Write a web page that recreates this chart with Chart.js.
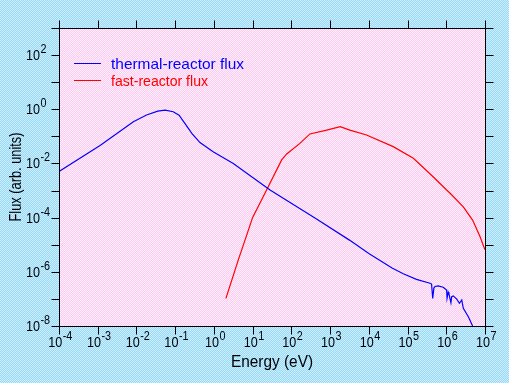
<!DOCTYPE html>
<html>
<head>
<meta charset="utf-8">
<script src="https://cdn.jsdelivr.net/npm/chart.js@4"></script>
<style>
html,body{margin:0;padding:0;background:#b2e2fa;}
canvas{display:block;}
</style>
</head>
<body>
<canvas id="c" width="509" height="383"></canvas>
<script>
// ---- data (log10 of energy in eV, log10 of flux) ----
const thermalLogE = [-4.0,-2.94,-2.08,-1.74,-1.45,-1.26,-1.05,-0.90,-0.75,-0.57,-0.36,-0.02,0.50,1.19,1.45,2.65,3.50,4.0,4.29,4.6,4.89,5.23,5.58,5.62,5.65,5.68,5.71,5.79,5.92,6.01,6.02,6.05,6.07,6.12,6.14,6.18,6.27,6.34,6.40,6.44,6.57,6.68];
const thermalLogFlux = [-2.30,-1.34,-0.46,-0.21,-0.07,-0.03,-0.09,-0.22,-0.52,-0.89,-1.23,-1.57,-2.00,-2.71,-2.98,-4.05,-4.83,-5.32,-5.58,-5.86,-6.07,-6.28,-6.42,-6.45,-6.98,-6.60,-6.54,-6.52,-6.57,-6.67,-6.98,-6.75,-6.82,-7.14,-6.92,-6.89,-7.01,-7.16,-7.04,-7.35,-7.66,-8.0];
const fastLogE = [0.31,0.63,0.89,1.0,1.23,1.36,1.75,1.88,2.22,2.48,2.91,3.26,3.51,3.94,4.63,5.15,5.66,6.01,6.10,6.44,6.68,6.87,7.0];
const fastLogFlux = [-6.98,-5.56,-4.46,-3.99,-3.35,-2.98,-1.87,-1.65,-1.26,-0.91,-0.77,-0.64,-0.77,-0.95,-1.38,-1.81,-2.49,-2.98,-3.10,-3.60,-4.09,-4.70,-5.19];
const seriesLabels = ["thermal-reactor flux", "fast-reactor flux"];
const xTickExponents = [-4,-3,-2,-1,0,1,2,3,4,5,6,7];
const yTickExponents = [-8,-7,-6,-5,-4,-3,-2,-1,0,1,2,3];
const yLabelExponents = [-8,-6,-4,-2,0,2];
const xTitle = "Energy (eV)";
const yTitle = "Flux (arb. units)";

function toPoints(le, lf){ return le.map((e,i)=>({x:Math.pow(10,e), y:Math.pow(10,lf[i])})); }

function checker(c1, c2){
  const p = document.createElement('canvas'); p.width = 2; p.height = 2;
  const g = p.getContext('2d');
  g.fillStyle = c1; g.fillRect(0,0,2,2);
  g.fillStyle = c2; g.fillRect(0,0,1,1); g.fillRect(1,1,1,1);
  return p;
}

const FONT = '"Liberation Sans", Arial, Helvetica, sans-serif';

function drawFitted(ctx, text, x, y, font, width, align){
  ctx.save();
  ctx.font = font;
  const w = ctx.measureText(text).width;
  const s = width / w;
  ctx.translate(x, y);
  ctx.scale(s, 1);
  ctx.textAlign = align || 'left';
  ctx.fillText(text, 0, 0);
  ctx.restore();
}

function powerLabel(ctx, exp, x, y, mode){
  const base = "10", sup = String(exp);
  const bs = 0.84, ss = 0.9;
  ctx.font = '15px ' + FONT;
  const bw = ctx.measureText(base).width * bs;
  ctx.font = '12px ' + FONT;
  const sw = ctx.measureText(sup).width * ss;
  let x0 = mode === 'center' ? x - (bw + sw) / 2 : x;
  ctx.textAlign = 'left';
  ctx.textBaseline = 'alphabetic';
  ctx.save(); ctx.translate(x0, y); ctx.scale(bs,1); ctx.font = '15px ' + FONT; ctx.fillText(base, 0, 0); ctx.restore();
  ctx.save(); ctx.translate(x0 + bw + 0.5, y - 7); ctx.scale(ss,1); ctx.font = '12px ' + FONT; ctx.fillText(sup, 0, 0); ctx.restore();
}

const decor = {
  id: 'decor',
  beforeDraw(chart){
    const ctx = chart.ctx, a = chart.chartArea;
    ctx.save();
    ctx.fillStyle = ctx.createPattern(checker('#9cd8f6', '#c8f0ff'), 'repeat');
    ctx.fillRect(0, 0, chart.width, chart.height);
    ctx.fillStyle = ctx.createPattern(checker('#fccafa', '#fff0f2'), 'repeat');
    ctx.fillRect(a.left, a.top, a.right - a.left, a.bottom - a.top);
    ctx.restore();
  },
  afterDraw(chart){
    const ctx = chart.ctx, a = chart.chartArea;
    const xs = chart.scales.x, ys = chart.scales.y;
    ctx.save();
    ctx.strokeStyle = '#000'; ctx.lineWidth = 1;
    ctx.beginPath();
    ctx.rect(a.left + 0.5, a.top + 0.5, a.right - a.left, a.bottom - a.top);
    const T = 8;
    xTickExponents.forEach(e => {
      const px = Math.round(xs.getPixelForValue(Math.pow(10, e))) + 0.5;
      ctx.moveTo(px, a.bottom + 0.5); ctx.lineTo(px, a.bottom + 0.5 + T);
      ctx.moveTo(px, a.top + 0.5); ctx.lineTo(px, a.top + 0.5 - T);
    });
    yTickExponents.forEach(e => {
      const py = Math.round(ys.getPixelForValue(Math.pow(10, e))) + 0.5;
      ctx.moveTo(a.left + 0.5, py); ctx.lineTo(a.left + 0.5 - T, py);
      ctx.moveTo(a.right + 0.5, py); ctx.lineTo(a.right + 0.5 + T, py);
    });
    ctx.stroke();

    ctx.fillStyle = '#000';
    xTickExponents.forEach(e => {
      const px = xs.getPixelForValue(Math.pow(10, e));
      powerLabel(ctx, e, px + 1, a.bottom + 21, 'center');
    });
    yLabelExponents.forEach(e => {
      const py = ys.getPixelForValue(Math.pow(10, e));
      powerLabel(ctx, e, 26, py + 5, 'left');
    });

    // axis titles
    ctx.fillStyle = '#000';
    drawFitted(ctx, xTitle, (a.left + a.right) / 2, 367, '16px ' + FONT, 82, 'center');
    ctx.save();
    ctx.translate(21, (a.top + a.bottom) / 2);
    ctx.rotate(-Math.PI / 2);
    drawFitted(ctx, yTitle, 0, 0, '16px ' + FONT, 89, 'center');
    ctx.restore();

    // legend
    const widths = [133, 97];
    chart.data.datasets.forEach((ds, i) => {
      const ly = 63 + i * 17;
      ctx.strokeStyle = ds.borderColor; ctx.lineWidth = 1;
      ctx.beginPath(); ctx.moveTo(74, ly + 0.5); ctx.lineTo(101, ly + 0.5); ctx.stroke();
      ctx.fillStyle = ds.borderColor;
      drawFitted(ctx, ds.label, 111, ly + 6, '15px ' + FONT, widths[i], 'left');
    });
    ctx.restore();
  }
};

new Chart(document.getElementById('c'), {
  type: 'scatter',
  data: {
    datasets: [
      { label: seriesLabels[0], data: toPoints(thermalLogE, thermalLogFlux), showLine: true, borderColor: '#0000ff', borderWidth: 1.2, pointRadius: 0, tension: 0, fill: false },
      { label: seriesLabels[1], data: toPoints(fastLogE, fastLogFlux), showLine: true, borderColor: '#ff0000', borderWidth: 1.2, pointRadius: 0, tension: 0, fill: false }
    ]
  },
  options: {
    responsive: false,
    animation: false,
    devicePixelRatio: 1,
    layout: { padding: { left: 59, right: 24, top: 28, bottom: 57 } },
    scales: {
      x: { type: 'logarithmic', min: 1e-4, max: 1e7, display: false },
      y: { type: 'logarithmic', min: 1e-8, max: 1e3, display: false }
    },
    plugins: { legend: { display: false }, tooltip: { enabled: false } }
  },
  plugins: [decor]
});
</script>
</body>
</html>
